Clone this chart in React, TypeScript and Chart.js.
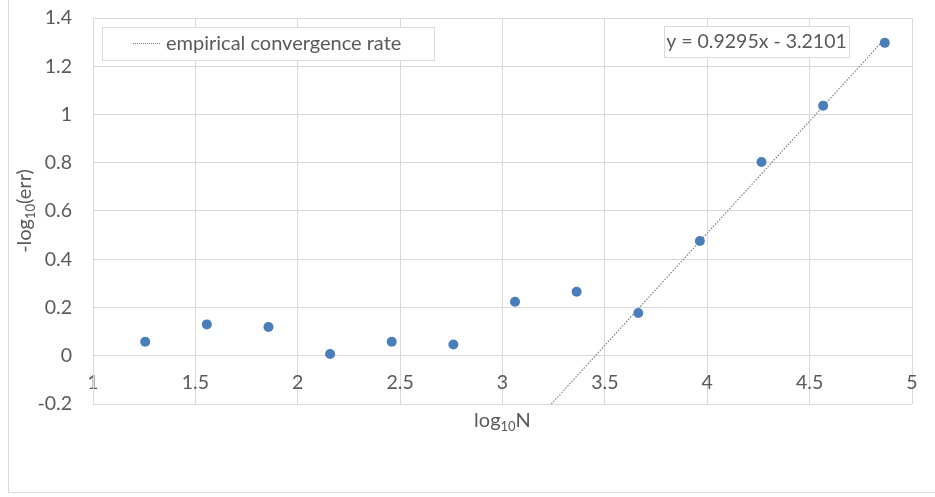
import React, { useEffect, useRef } from "react";
import { Chart, registerables } from "chart.js";

Chart.register(...registerables);

const xValues = [1.255, 1.556, 1.857, 2.158, 2.459, 2.76, 3.061, 3.362, 3.663, 3.964, 4.265, 4.566, 4.867];
const yValues = [0.058, 0.13, 0.119, 0.007, 0.058, 0.047, 0.224, 0.265, 0.177, 0.476, 0.803, 1.036, 1.297];
const xTicks = [1, 1.5, 2, 2.5, 3, 3.5, 4, 4.5, 5];
const xTickLabels = ["1", "1.5", "2", "2.5", "3", "3.5", "4", "4.5", "5"];
const yTicks = [-0.2, 0, 0.2, 0.4, 0.6, 0.8, 1, 1.2, 1.4];
const yTickLabels = ["-0.2", "0", "0.2", "0.4", "0.6", "0.8", "1", "1.2", "1.4"];
const trendSlope = 0.9295;
const trendIntercept = -3.2101;
const trendLabel = "empirical convergence rate";
const equationText = "y = 0.9295x - 3.2101";

const FONT = "Lato";
const TEXT = "#595959";
const GRID = "#d9d9d9";

function drawSubText(
  ctx: CanvasRenderingContext2D,
  parts: { t: string; sub?: boolean }[],
  cx: number,
  cy: number,
  size: number
) {
  const subSize = Math.round(size * 0.66);
  let total = 0;
  for (const p of parts) {
    ctx.font = `${p.sub ? subSize : size}px ${FONT}`;
    total += ctx.measureText(p.t).width;
  }
  let x = cx - total / 2;
  ctx.textBaseline = "middle";
  ctx.textAlign = "left";
  for (const p of parts) {
    ctx.font = `${p.sub ? subSize : size}px ${FONT}`;
    ctx.fillText(p.t, x, p.sub ? cy + size * 0.27 : cy);
    x += ctx.measureText(p.t).width;
  }
}

const decorPlugin = {
  id: "decor",
  beforeDraw(chart: any) {
    const ctx = chart.ctx as CanvasRenderingContext2D;
    ctx.save();
    ctx.fillStyle = "#ffffff";
    ctx.fillRect(0, 0, chart.width, chart.height);
    ctx.strokeStyle = GRID;
    ctx.lineWidth = 1;
    ctx.beginPath();
    ctx.moveTo(8.5, 0);
    ctx.lineTo(8.5, 492.5);
    ctx.lineTo(chart.width, 492.5);
    ctx.stroke();
    ctx.restore();
  },
  afterDraw(chart: any) {
    const ctx = chart.ctx as CanvasRenderingContext2D;
    const area = chart.chartArea;
    ctx.save();
    ctx.fillStyle = TEXT;
    // axis titles
    drawSubText(ctx, [{ t: "log" }, { t: "10", sub: true }, { t: "N" }], (area.left + area.right) / 2, 421, 20);
    ctx.save();
    ctx.translate(25, (area.top + area.bottom) / 2);
    ctx.rotate(-Math.PI / 2);
    drawSubText(ctx, [{ t: "-log" }, { t: "10", sub: true }, { t: "(err)" }], 0, 0, 20);
    ctx.restore();

    // legend box
    ctx.fillStyle = "#ffffff";
    ctx.fillRect(102, 27, 332, 33);
    ctx.strokeStyle = GRID;
    ctx.lineWidth = 1;
    ctx.strokeRect(102.5, 27.5, 332, 33);
    ctx.strokeStyle = "#808080";
    ctx.lineWidth = 1;
    ctx.setLineDash([1, 1]);
    ctx.beginPath();
    ctx.moveTo(133, 43.5);
    ctx.lineTo(161, 43.5);
    ctx.stroke();
    ctx.setLineDash([]);
    ctx.fillStyle = TEXT;
    ctx.font = `20px ${FONT}`;
    ctx.textAlign = "left";
    ctx.textBaseline = "middle";
    ctx.fillText(chart.data.datasets[1].label, 166, 43.5);

    // equation box
    ctx.fillStyle = "#ffffff";
    ctx.fillRect(664, 26, 185, 31);
    ctx.strokeStyle = GRID;
    ctx.strokeRect(664.5, 26.5, 185, 31);
    ctx.fillStyle = TEXT;
    ctx.textAlign = "center";
    ctx.font = `19.5px ${FONT}`;
    ctx.fillText(equationText, 756.5, 42);
    ctx.restore();
  },
};

export default function App() {
  const ref = useRef<HTMLCanvasElement | null>(null);
  useEffect(() => {
    if (!ref.current) return;
    const yMin = yTicks[0];
    const xStart = (yMin - trendIntercept) / trendSlope;
    const xEnd = xValues[xValues.length - 1];
    const chart = new Chart(ref.current, {
      type: "scatter",
      data: {
        datasets: [
          {
            label: "data",
            data: xValues.map((x, i) => ({ x, y: yValues[i] })),
            backgroundColor: "#4A7EBB",
            borderColor: "#4A7EBB",
            pointRadius: 5,
            pointHoverRadius: 5,
            borderWidth: 0,
            order: 1,
          },
          {
            label: trendLabel,
            type: "line",
            data: [
              { x: xStart, y: trendSlope * xStart + trendIntercept },
              { x: xEnd, y: trendSlope * xEnd + trendIntercept },
            ],
            borderColor: "#808080",
            borderWidth: 1.2,
            borderDash: [1.5, 1.5],
            pointRadius: 0,
            fill: false,
            showLine: true,
            order: 2,
          } as any,
        ],
      },
      options: {
        animation: false,
        responsive: false,
        layout: { padding: { left: 0, top: 18, right: 23, bottom: 93 } },
        plugins: { legend: { display: false }, tooltip: { enabled: false } },
        scales: {
          x: {
            type: "linear",
            axis: "x",
            position: { y: 0 } as any,
            min: 1,
            max: 5,
            afterBuildTicks: (s: any) => {
              s.ticks = xTicks.map((v) => ({ value: v }));
            },
            afterFit: (s: any) => {
              s.paddingLeft = 0;
              s.paddingRight = 0;
            },
            ticks: {
              color: TEXT,
              font: { family: FONT, size: 19.5 },
              padding: 15,
              maxRotation: 0,
              autoSkip: false,
              callback: (_v: any, i: number) => xTickLabels[i],
            },
            grid: { color: GRID, drawTicks: false },
            border: { color: GRID },
          },
          y: {
            type: "linear",
            position: "left",
            min: -0.2,
            max: 1.4,
            afterBuildTicks: (s: any) => {
              s.ticks = yTicks.map((v) => ({ value: v }));
            },
            afterFit: (s: any) => {
              s.width = 93;
              s.paddingTop = 0;
              s.paddingBottom = 0;
            },
            ticks: {
              color: TEXT,
              font: { family: FONT, size: 19.5 },
              padding: 21,
              autoSkip: false,
              callback: (_v: any, i: number) => yTickLabels[i],
            },
            grid: { color: GRID, drawTicks: false },
            border: { color: GRID },
          },
        },
      },
      plugins: [decorPlugin],
    });
    return () => chart.destroy();
  }, []);
  return (
    <div style={{ position: "fixed", left: 0, top: 0, width: 935, height: 497 }}>
      <canvas ref={ref} width={935} height={497} style={{ width: 935, height: 497 }} />
    </div>
  );
}
